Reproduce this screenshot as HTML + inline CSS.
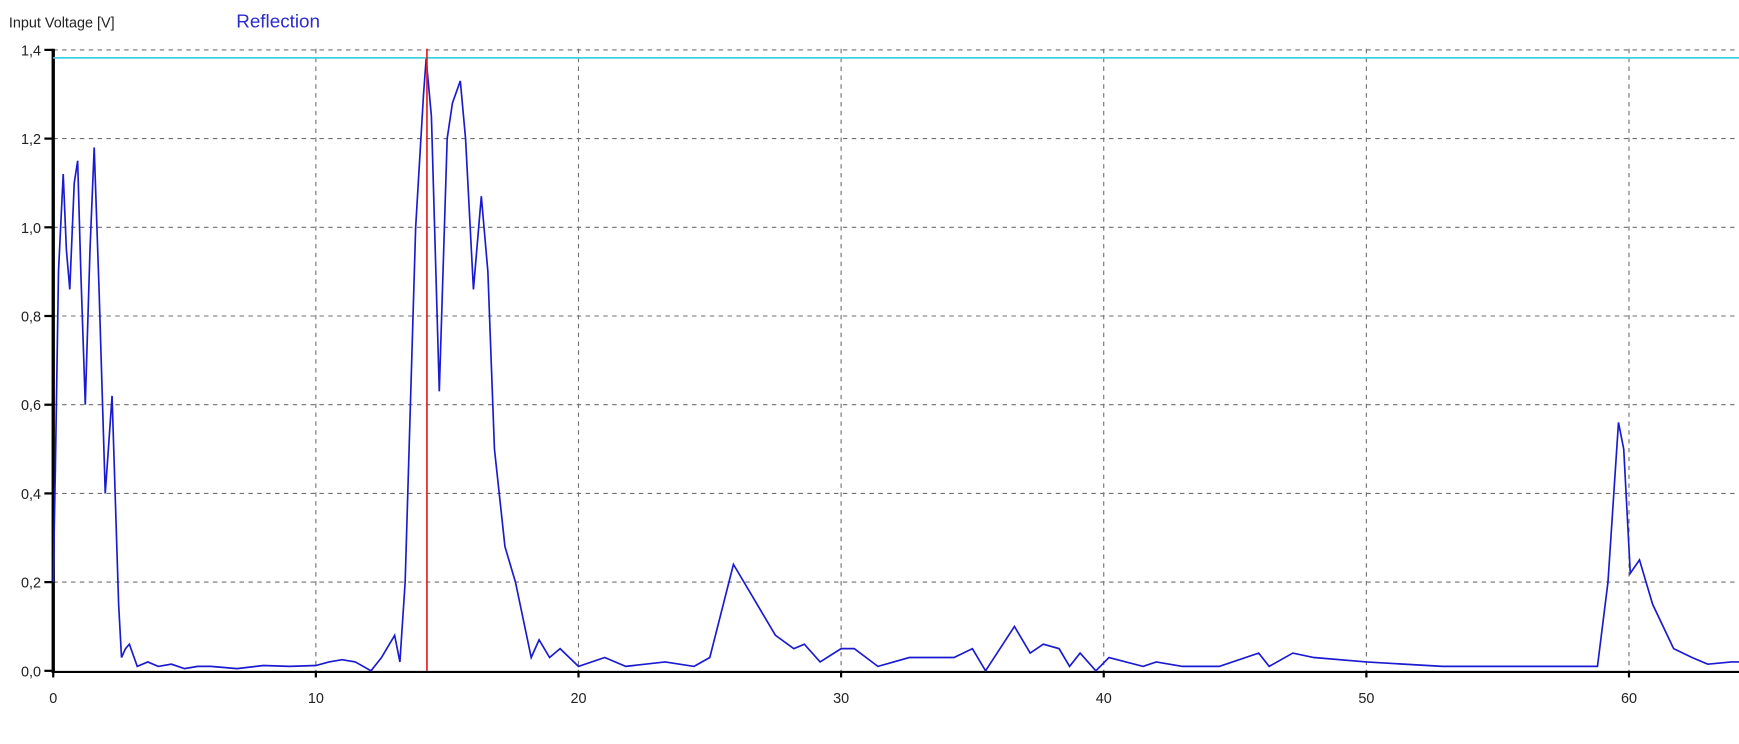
<!DOCTYPE html>
<html><head><meta charset="utf-8"><style>
html,body{margin:0;padding:0;background:#fff;}
svg{display:block;}
</style></head><body>
<svg id="chart" width="1739" height="744" viewBox="0 0 1568 671" preserveAspectRatio="none" xmlns="http://www.w3.org/2000/svg" font-family="Liberation Sans, sans-serif">
<rect width="1568" height="671" fill="#fff"/>
<text x="8" y="25" font-size="13" fill="#222">Input Voltage [V]</text>
<text x="213" y="25" font-size="17" fill="#2a2ad0">Reflection</text>
<g id="grid"></g><g id="axes"></g><g id="series"></g>
</svg>
<script>
const xTicks=[0,10,20,30,40,50,60];
const yTicks=[0,0.2,0.4,0.6,0.8,1.0,1.2,1.4];
const xs=[0,0.08,0.2,0.38,0.5,0.63,0.8,0.93,1.05,1.22,1.4,1.56,1.75,1.98,2.1,2.24,2.49,2.6,2.75,2.9,3.2,3.6,4,4.5,5,5.5,6,7,8,9,10,10.5,11,11.5,12.1,12.5,13,13.2,13.4,13.8,14.1,14.2,14.4,14.7,15.0,15.2,15.5,15.7,16.0,16.3,16.55,16.8,17.2,17.6,18.2,18.5,18.9,19.3,20,21,21.8,23.3,24.4,25,25.9,26.7,27.5,28.2,28.6,29.2,30,30.5,31.4,32.6,34.3,35.0,35.5,36.6,37.2,37.7,38.3,38.7,39.1,39.7,40.2,41.5,42,43,44.4,45.9,46.3,47.2,48,50,52.9,55,58.8,59.2,59.6,59.8,60.05,60.4,60.9,61.7,62.4,63,63.9,64.4];
const vs=[0.2,0.45,0.9,1.12,0.95,0.86,1.1,1.15,0.9,0.6,0.95,1.18,0.85,0.4,0.5,0.62,0.15,0.03,0.05,0.06,0.01,0.02,0.01,0.015,0.005,0.01,0.01,0.005,0.012,0.01,0.012,0.02,0.025,0.02,0.0,0.03,0.08,0.02,0.2,1.0,1.3,1.38,1.25,0.63,1.2,1.28,1.33,1.2,0.86,1.07,0.9,0.5,0.28,0.2,0.03,0.07,0.03,0.05,0.01,0.03,0.01,0.02,0.01,0.03,0.24,0.16,0.08,0.05,0.06,0.02,0.05,0.05,0.01,0.03,0.03,0.05,0.0,0.1,0.04,0.06,0.05,0.01,0.04,0.0,0.03,0.01,0.02,0.01,0.01,0.04,0.01,0.04,0.03,0.02,0.01,0.01,0.01,0.2,0.56,0.5,0.22,0.25,0.15,0.05,0.03,0.015,0.02,0.02];
const cursorX=[14.23];
const refLevel=[1.382];
const X=x=>48+x*23.68, Y=v=>605-v*400;
const NS="http://www.w3.org/2000/svg";
function mk(parent,tag,attrs){const e=document.createElementNS(NS,tag);for(const k in attrs)e.setAttribute(k,attrs[k]);document.getElementById(parent).appendChild(e);return e;}
xTicks.forEach(t=>{
 if(t>0){const g=mk('grid','line',{x1:X(t),x2:X(t),y1:44,y2:605,stroke:'#707070','stroke-dasharray':'4,4'});
 
 }
 const tk=mk('axes','line',{x1:X(t),x2:X(t),y1:605,y2:611,stroke:'#000','stroke-width':2});
 
 
 const l=mk('axes','text',{x:X(t),y:634,'font-size':13,'text-anchor':'middle',fill:'#222'});l.textContent=t;
 
 
});
yTicks.forEach(t=>{
 if(t>0){const g=mk('grid','line',{x1:48,x2:1568,y1:Y(t),y2:Y(t),stroke:'#707070','stroke-dasharray':'4,4'});
 
 }
 const tk=mk('axes','line',{x1:40,x2:48,y1:Y(t),y2:Y(t),stroke:'#000','stroke-width':2});
 
 
 const l=mk('axes','text',{x:37,y:Y(t)+5,'font-size':13,'text-anchor':'end',fill:'#222'});l.textContent=t.toFixed(1).replace('.',',');
 
 
});
const ya=mk('axes','line',{x1:48,x2:48,y1:44,y2:607,stroke:'#000','stroke-width':3});


const xa=mk('axes','line',{x1:47,x2:1568,y1:606,y2:606,stroke:'#000','stroke-width':2});


const ref=mk('series','line',{x1:48,x2:1568,y1:Y(refLevel[0]),y2:Y(refLevel[0]),stroke:'#40d0e0','stroke-width':1.5});


const p=mk('series','polyline',{points:xs.map((x,i)=>X(x)+','+Y(vs[i])).join(' '),fill:'none',stroke:'#1a1ad0','stroke-width':1.5});


const c=mk('series','line',{x1:X(cursorX[0]),x2:X(cursorX[0]),y1:44,y2:605,stroke:'#e02020','stroke-width':1.5});


</script>
</body></html>
